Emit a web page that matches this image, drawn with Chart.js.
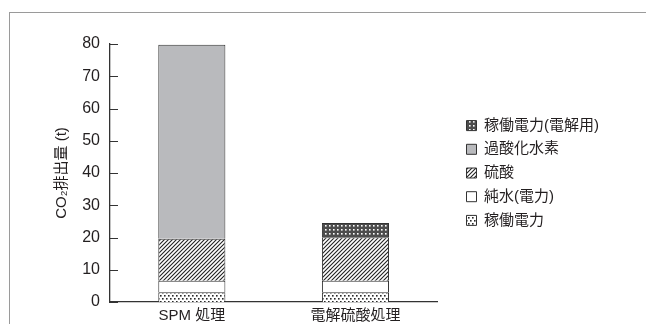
<!DOCTYPE html>
<html>
<head>
<meta charset="utf-8">
<script src="https://cdn.jsdelivr.net/npm/chart.js@4"></script>
<style>
  html, body { margin: 0; padding: 0; background: #fff; }
  #wrap { position: relative; width: 646px; height: 324px; overflow: hidden; }
  #frame { position: absolute; left: 9px; top: 12px; width: 640px; height: 320px;
           border-top: 1px solid #9a9a9a; border-left: 1px solid #9a9a9a; }
  canvas { position: absolute; left: 0; top: 0; }
</style>
</head>
<body>
<div id="wrap">
  <div id="frame"></div>
  <canvas id="chart" width="646" height="324"></canvas>
</div>
<script>
/* ── Data ─────────────────────────────────────────────── */
const categories = ['SPM 処理', '電解硫酸処理'];
const seriesNames = ['稼働電力', '純水(電力)', '硫酸', '過酸化水素', '稼働電力(電解用)'];
const opPower    = [3.0, 3.0];
const pureWater  = [3.6, 3.6];
const sulfuric   = [13.0, 13.5];
const peroxide   = [60.2, 0];
const elecPower  = [0, 4.4];
const yTicks     = [0, 10, 20, 30, 40, 50, 60, 70, 80];

const FONT = "'Liberation Sans', 'Noto Sans CJK JP', sans-serif";
const ctx = document.getElementById('chart').getContext('2d');

/* ── Patterns ─────────────────────────────────────────── */
function makePattern(w, h, draw) {
  const c = document.createElement('canvas');
  c.width = w; c.height = h;
  draw(c.getContext('2d'));
  return ctx.createPattern(c, 'repeat');
}

// white with staggered dark dots
const dotsPattern = makePattern(4, 6, (g) => {
  g.fillStyle = '#fff'; g.fillRect(0, 0, 4, 6);
  g.fillStyle = '#2a2a2a';
  g.fillRect(0, 1, 1.6, 1.6);
  g.fillRect(2, 4, 1.6, 1.6);
});

// diagonal hatch
const hatchPattern = makePattern(4, 4, (g) => {
  g.fillStyle = '#fff'; g.fillRect(0, 0, 4, 4);
  g.strokeStyle = '#222'; g.lineWidth = 1.1;
  g.beginPath();
  g.moveTo(-1, 5); g.lineTo(5, -1);
  g.moveTo(-1, 1); g.lineTo(1, -1);
  g.moveTo(3, 5); g.lineTo(5, 3);
  g.stroke();
});

// dark with white dots
const darkDotsPattern = makePattern(4, 4, (g) => {
  g.fillStyle = '#4d4d4d'; g.fillRect(0, 0, 4, 4);
  g.fillStyle = '#fff';
  g.fillRect(1, 1, 1.6, 1.6);
});

/* ── Inward tick marks ────────────────────────────────── */
const innerTicks = {
  id: 'innerTicks',
  afterDraw(chart) {
    const s = chart.scales.y;
    const c = chart.ctx;
    c.save();
    c.strokeStyle = '#333';
    c.lineWidth = 1;
    s.ticks.forEach(t => {
      const y = Math.round(s.getPixelForValue(t.value)) + 0.5;
      c.beginPath();
      c.moveTo(s.right, y);
      c.lineTo(s.right + 8, y);
      c.stroke();
    });
    c.restore();
  }
};

const common = { borderColor: '#333', borderWidth: 1, barPercentage: 0.41, categoryPercentage: 1 };

new Chart(ctx, {
  type: 'bar',
  data: {
    labels: categories,
    datasets: [
      { label: seriesNames[0], data: opPower,   backgroundColor: dotsPattern,     ...common },
      { label: seriesNames[1], data: pureWater, backgroundColor: '#ffffff',       ...common },
      { label: seriesNames[2], data: sulfuric,  backgroundColor: hatchPattern,    ...common },
      { label: seriesNames[3], data: peroxide,  backgroundColor: '#b9babd',       ...common },
      { label: seriesNames[4], data: elecPower, backgroundColor: darkDotsPattern, ...common },
    ],
  },
  options: {
    responsive: false,
    animation: false,
    layout: { padding: { top: 44, left: 0, right: 37, bottom: 0 } },
    plugins: {
      tooltip: { enabled: false },
      legend: {
        position: 'right',
        fullSize: false,
        reverse: true,
        maxWidth: 220,
        labels: {
          boxWidth: 10,
          boxHeight: 10,
          padding: 8.7,
          color: '#231f20',
          font: { family: FONT, size: 15 },
        },
      },
    },
    scales: {
      x: {
        stacked: true,
        grid: { display: false, drawTicks: false },
        border: { display: true, color: '#333', width: 1.3 },
        ticks: { color: '#231f20', font: { family: FONT, size: 15 }, padding: 5, maxRotation: 0 },
        afterFit: (s) => { s.height = 22; },
      },
      y: {
        stacked: true,
        min: 0,
        max: 80,
        afterBuildTicks: (s) => { s.ticks = yTicks.map(v => ({ value: v })); },
        grid: { display: false, drawTicks: false },
        border: { display: true, color: '#333', width: 1.3 },
        ticks: { color: '#231f20', font: { family: FONT, size: 16 }, padding: 10 },
        title: {
          display: true,
          text: 'CO₂排出量 (t)',
          color: '#231f20',
          font: { family: FONT, size: 15 },
          padding: { top: 53, bottom: 0 },
        },
        afterFit: (s) => { s.width = 110; },
      },
      y2: {
        position: 'right',
        display: true,
        grid: { display: false, drawTicks: false },
        border: { display: false },
        ticks: { display: false },
        afterFit: (s) => { s.width = 20.5; },
      },
    },
  },
  plugins: [innerTicks],
});
</script>
</body>
</html>
